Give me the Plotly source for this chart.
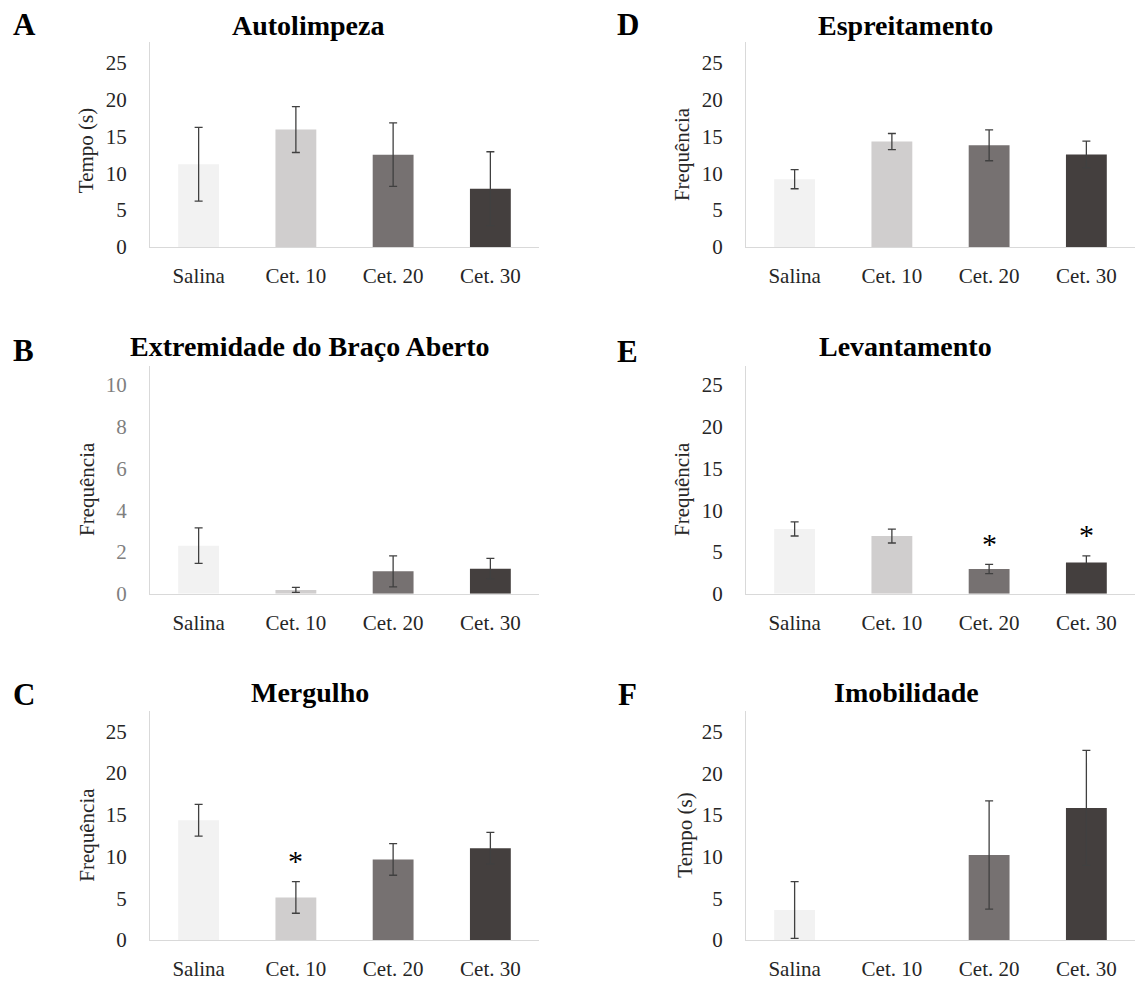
import plotly.graph_objects as go

# ---------------- data ----------------
categories = ["Salina", "Cet. 10", "Cet. 20", "Cet. 30"]

autolimpeza_mean = [11.2, 15.9, 12.5, 7.9]
autolimpeza_err = [5.0, 3.1, 4.3, 5.0]
autolimpeza_sig = [False, False, False, False]

braco_mean = [2.3, 0.18, 1.07, 1.2]
braco_err = [0.85, 0.12, 0.74, 0.49]
braco_sig = [False, False, False, False]

mergulho_mean = [14.35, 5.1, 9.65, 11.0]
mergulho_err = [1.9, 1.9, 1.9, 1.9]
mergulho_sig = [False, True, False, False]

espreitamento_mean = [9.2, 14.3, 13.8, 12.55]
espreitamento_err = [1.3, 1.1, 2.1, 1.8]
espreitamento_sig = [False, False, False, False]

levantamento_mean = [7.75, 6.9, 2.95, 3.75]
levantamento_err = [0.84, 0.83, 0.55, 0.78]
levantamento_sig = [False, False, True, True]

imobilidade_mean = [3.6, 0, 10.2, 15.85]
imobilidade_err = [3.4, 0, 6.5, 6.9]
imobilidade_sig = [False, False, False, False]

ticks_25 = [0, 5, 10, 15, 20, 25]
ticks_10 = [0, 2, 4, 6, 8, 10]

# ---------------- style ----------------
W, H = 1143, 989
bar_colors = ["#f2f2f2", "#d0cece", "#767171", "#443f3e"]
FONT = "Liberation Serif"
AXIS_COLOR = "#d9d9d9"
ERR_COLOR = "#404040"

def px_x(x):
    return x / W

def px_y(y):
    return 1 - y / H

# layout geometry in pixels
col_x = {"L": (150, 539), "R": (746, 1135)}
row_y = {1: (43, 250), 2: (371, 601), 3: (720, 951.5)}

panels = [
    dict(letter="A", title="Autolimpeza", ytitle="Tempo (s)", mean=autolimpeza_mean, err=autolimpeza_err,
         sig=autolimpeza_sig, ticks=ticks_25, ymax=27.7, col="L", row=1,
         title_c=(308, 35), letter_c=(24, 35), ytitle_c=(86, 153), tickcolor="#262626"),
    dict(letter="B", title="Extremidade do Braço Aberto", ytitle="Frequência", mean=braco_mean, err=braco_err,
         sig=braco_sig, ticks=ticks_10, ymax=10.88, col="L", row=2,
         title_c=(310, 360), letter_c=(23, 365), ytitle_c=(87, 495), tickcolor="#7f7f7f"),
    dict(letter="C", title="Mergulho", ytitle="Frequência", mean=mergulho_mean, err=mergulho_err,
         sig=mergulho_sig, ticks=ticks_25, ymax=27.4, col="L", row=3,
         title_c=(310, 710), letter_c=(24, 713), ytitle_c=(87, 845), tickcolor="#262626"),
    dict(letter="D", title="Espreitamento", ytitle="Frequência", mean=espreitamento_mean, err=espreitamento_err,
         sig=espreitamento_sig, ticks=ticks_25, ymax=27.75, col="R", row=1,
         title_c=(905, 35), letter_c=(628, 35), ytitle_c=(682, 156), tickcolor="#262626"),
    dict(letter="E", title="Levantamento", ytitle="Frequência", mean=levantamento_mean, err=levantamento_err,
         sig=levantamento_sig, ticks=ticks_25, ymax=27.2, col="R", row=2,
         title_c=(905, 360), letter_c=(627, 366), ytitle_c=(682, 495), tickcolor="#262626"),
    dict(letter="F", title="Imobilidade", ytitle="Tempo (s)", mean=imobilidade_mean, err=imobilidade_err,
         sig=imobilidade_sig, ticks=ticks_25, ymax=27.45, col="R", row=3,
         title_c=(906, 710), letter_c=(627, 713), ytitle_c=(685, 846), tickcolor="#262626"),
]

TITLE_SIZE = 28
LETTER_SIZE = 31
TICK_SIZE = 21
YTITLE_SIZE = 21
STAR_SIZE = 30
STAR_OFFSET = 3.85
ASC_MID = 0.3375  # baseline-to-box-middle ratio

fig = go.Figure()
annotations = []

for i, p in enumerate(panels, start=1):
    xa = "x" if i == 1 else f"x{i}"
    ya = "y" if i == 1 else f"y{i}"
    x0, x1 = col_x[p["col"]]
    ytop, ybot = row_y[p["row"]]
    for j, cat in enumerate(categories):
        e = p["err"][j]
        fig.add_trace(go.Bar(
            x=[cat], y=[p["mean"][j]], width=0.42,
            marker=dict(color=bar_colors[j], line=dict(width=0)),
            error_y=dict(type="data", array=[e], visible=e > 0, color=ERR_COLOR,
                         thickness=1.3, width=4),
            xaxis=xa, yaxis=ya, showlegend=False, hoverinfo="skip",
        ))
        if p["sig"][j]:
            annotations.append(dict(
                x=cat, y=p["mean"][j] + e + STAR_OFFSET, xref=xa, yref=ya,
                text="*", showarrow=False, yanchor="middle", yshift=-11,
                font=dict(family=FONT, size=STAR_SIZE, color="#000000"),
            ))
    xkey = "xaxis" if i == 1 else f"xaxis{i}"
    ykey = "yaxis" if i == 1 else f"yaxis{i}"
    fig.update_layout(**{
        xkey: dict(domain=[px_x(x0), px_x(x1)], anchor=ya, type="category",
                   categoryorder="array", categoryarray=categories, range=[-0.5, 3.5],
                   showline=True, linecolor=AXIS_COLOR, linewidth=1, showgrid=False,
                   zeroline=False, ticks="", ticklabelstandoff=10,
                   tickfont=dict(family=FONT, size=TICK_SIZE, color="#262626"), fixedrange=True),
        ykey: dict(domain=[px_y(ybot), px_y(ytop)], anchor=xa, range=[0, p["ymax"]],
                   tickvals=p["ticks"], showline=True, linecolor=AXIS_COLOR, linewidth=1,
                   showgrid=False, zeroline=False, ticks="", ticklabelstandoff=18,
                   tickfont=dict(family=FONT, size=TICK_SIZE, color=p["tickcolor"]), fixedrange=True),
    })
    tx, tb = p["title_c"]
    annotations.append(dict(
        x=px_x(tx), y=px_y(tb - ASC_MID * TITLE_SIZE), xref="paper", yref="paper",
        text=f"<b>{p['title']}</b>", showarrow=False, xanchor="center", yanchor="middle",
        font=dict(family=FONT, size=TITLE_SIZE, color="#000000"),
    ))
    lx, lb = p["letter_c"]
    annotations.append(dict(
        x=px_x(lx), y=px_y(lb - ASC_MID * LETTER_SIZE), xref="paper", yref="paper",
        text=f"<b>{p['letter']}</b>", showarrow=False, xanchor="center", yanchor="middle",
        font=dict(family=FONT, size=LETTER_SIZE, color="#000000"),
    ))
    yx, yy = p["ytitle_c"]
    annotations.append(dict(
        x=px_x(yx), y=px_y(yy), xref="paper", yref="paper", textangle=-90,
        text=p["ytitle"], showarrow=False, xanchor="center", yanchor="middle",
        font=dict(family=FONT, size=YTITLE_SIZE, color="#262626"),
    ))

fig.update_layout(
    width=W, height=H, margin=dict(l=0, r=0, t=0, b=0),
    paper_bgcolor="white", plot_bgcolor="white", showlegend=False,
    barmode="overlay", annotations=annotations,
)

fig.write_html(
    "out.html",
    config={"displayModeBar": False},
    post_script="document.body.style.margin='0';document.body.style.overflow='hidden';",
)
